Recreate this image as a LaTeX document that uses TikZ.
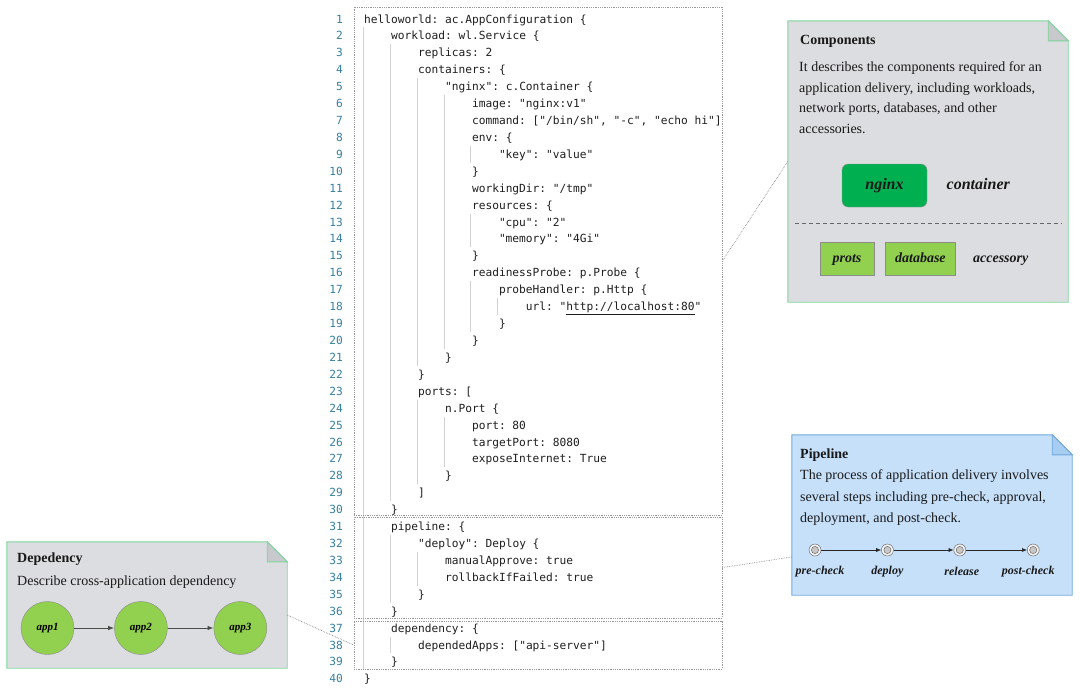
\documentclass[tikz,border=0pt]{standalone}
\usepackage{fontspec}
\setmainfont{Liberation Serif}
\setmonofont{DejaVu Sans Mono}
\usetikzlibrary{positioning,arrows.meta,calc}

\definecolor{lineno}{HTML}{357FA3}
\definecolor{codeink}{HTML}{1E1E1E}
\definecolor{guide}{HTML}{D2D2D2}
\definecolor{notegray}{HTML}{DCDDE0}
\definecolor{foldgray}{HTML}{C8C9CC}
\definecolor{notegreen}{HTML}{7DD69B}
\definecolor{noteblue}{HTML}{C6E0FA}
\definecolor{foldblue}{HTML}{A8CDF2}
\definecolor{edgeblue}{HTML}{6FA8DC}
\definecolor{darkgreen}{HTML}{00B050}
\definecolor{lightgreen}{HTML}{92D050}

\tikzset{
  codeline/.style={anchor=base west, inner sep=0pt, text=codeink, font=\ttfamily\fontsize{11.2}{13}\selectfont},
  linenum/.style={anchor=base east, inner sep=0pt, text=lineno, font=\ttfamily\fontsize{11.2}{13}\selectfont},
  codebox/.style={draw=black!40, densely dotted, line width=0.8pt, inner sep=0pt},
  note/.style={inner sep=0pt},
  notetext/.style={anchor=base west, inner sep=0pt, text=black!90, font=\fontsize{14}{16}\selectfont},
  notetitle/.style={notetext, font=\bfseries\fontsize{14}{16}\selectfont},
  tag/.style={text=black!90, text height=0.85em, text depth=0.05em, font=\bfseries\itshape\fontsize{14}{16}\selectfont},
  link/.style={draw=black!45, densely dotted, line width=0.7pt}
}

\begin{document}
\begin{tikzpicture}[x=1pt, y=-1pt,
    container/.style={tag, rounded corners=6pt, fill=darkgreen, draw=black!40, minimum width=85pt, minimum height=43pt, font=\bfseries\itshape\fontsize{16}{18}\selectfont},
    accbox/.style={tag, fill=lightgreen, draw=black!45, minimum height=33pt},
    stage/.style={circle, minimum size=12pt, inner sep=0pt, draw=black!65, fill=black!5, path picture={\filldraw[draw=black!65, fill=black!22] (path picture bounding box.center) circle (3.6pt);}},
    stagelabel/.style={inner sep=0pt, text=black!90, font=\bfseries\itshape\fontsize{12}{14}\selectfont},
    app/.style={circle, minimum size=53pt, inner sep=0pt, fill=lightgreen, draw=black!45, font=\bfseries\itshape\fontsize{11}{13}\selectfont},
    flow/.style={draw=black!85, line width=0.6pt, -{Latex[length=5pt,width=4pt]}},
    depflow/.style={draw=black!70, line width=0.9pt, -{Latex[length=6pt,width=4.5pt]}}]
\useasboundingbox (0,0) rectangle (1080,697);

% code listing
\foreach \n/\lvl/\txt in {1/0/{helloworld: ac.AppConfiguration \{}, 2/1/{workload: wl.Service \{}, 3/2/{replicas: 2}, 4/2/{containers: \{},
  5/3/{"nginx": c.Container \{}, 6/4/{image: "nginx:v1"}, 7/4/{command: ["/bin/sh", "-c", "echo hi"]}, 8/4/{env: \{},
  9/5/{"key": "value"}, 10/4/{\}}, 11/4/{workingDir: "/tmp"}, 12/4/{resources: \{}, 13/5/{"cpu": "2"}, 14/5/{"memory": "4Gi"},
  15/4/{\}}, 16/4/{readinessProbe: p.Probe \{}, 17/5/{probeHandler: p.Http \{}, 18/6/{url: "\underline{http://localhost:80}"},
  19/5/{\}}, 20/4/{\}}, 21/3/{\}}, 22/2/{\}}, 23/2/{ports: [}, 24/3/{n.Port \{}, 25/4/{port: 80}, 26/4/{targetPort: 8080},
  27/4/{exposeInternet: True}, 28/3/{\}}, 29/2/{]}, 30/1/{\}}, 31/1/{pipeline: \{}, 32/2/{"deploy": Deploy \{},
  33/3/{manualApprove: true}, 34/3/{rollbackIfFailed: true}, 35/2/{\}}, 36/1/{\}}, 37/1/{dependency: \{},
  38/2/{dependedApps: ["api-server"]}, 39/1/{\}}, 40/0/{\}}}{
  \node[linenum] (num\n) at (343,{23+16.92*(\n-1)}) {\n};
  \node[codeline] (code\n) at ({364+26.96*\lvl},{23+16.92*(\n-1)}) {\txt};
}
% indent guides
\foreach \lvl/\a/\b in {0/2/39, 1/3/29, 2/5/21, 3/6/20, 4/9/9, 4/13/14, 4/17/19, 5/18/18, 2/24/28, 3/25/27, 1/32/35, 2/33/34, 1/38/38}
  \draw[guide, line width=0.7pt] ({363+26.96*\lvl},{19+16.92*(\a-1)-8.5}) -- ++(0,{16.92*(\b-\a+1)});

\node[codebox, minimum width=368pt, minimum height=508pt] (cfgbox) at (538,261) {};
\node[codebox, minimum width=368pt, minimum height=101pt] (pipebox) at (538,567.5) {};
\node[codebox, minimum width=368pt, minimum height=48pt] (depbox) at (538,645) {};

% notes with folded corner
\node[note, minimum width=280pt, minimum height=281pt] (comp) at (928,161.5) {};
\node[note, minimum width=280pt, minimum height=160pt] (pipe) at (932,515) {};
\node[note, minimum width=280pt, minimum height=126pt] (dep) at (147,605) {};
\foreach \nb/\fc/\kc/\ec in {comp/notegray/foldgray/notegreen, pipe/noteblue/foldblue/edgeblue, dep/notegray/foldgray/notegreen}{
  \filldraw[fill=\fc, draw=\ec, line width=0.9pt] (\nb.south west) -- (\nb.north west) -- ([xshift=-20pt]\nb.north east) -- ([yshift=-20pt]\nb.north east) -- (\nb.south east) -- cycle;
  \filldraw[fill=\kc, draw=\ec, line width=0.9pt] ([xshift=-20pt]\nb.north east) -- ([xshift=-20pt,yshift=-20pt]\nb.north east) -- ([yshift=-20pt]\nb.north east) -- cycle;
}

% components
\node[notetitle] (comptitle) at (800,44.5) {Components};
\foreach \t [count=\i] in {It describes the components required for an, {application delivery, including workloads,}, {network ports, databases, and other}, accessories.}
  \node[notetext] (comptext\i) at (799,{71.5+20.7*(\i-1)}) {\t};
\node[container] (nginx) at (884.5,185.5) {nginx};
\node[tag, font=\bfseries\itshape\fontsize{16}{18}\selectfont, right=16pt of nginx] (ctrlabel) {container};
\draw[black!60, dash pattern=on 4pt off 3pt, line width=0.8pt] (795,223) -- (1062,223);
\node[accbox, minimum width=54pt] (prots) at (847,258.5) {prots};
\node[accbox, minimum width=70pt, right=11pt of prots] (database) {database};
\node[tag, right=14pt of database] (acclabel) {accessory};

% pipeline
\node[notetitle] (pipetitle) at (800,458.5) {Pipeline};
\foreach \t [count=\i] in {The process of application delivery involves, {several steps including pre-check, approval,}, {deployment, and post-check.}}
  \node[notetext] (pipetext\i) at (800,{479.5+21.5*(\i-1)}) {\t};
\node[stage] (precheck) at (815,550) {};
\node[stage, right=60pt of precheck] (deploy) {};
\node[stage, right=60pt of deploy] (release) {};
\node[stage, right=61pt of release] (postcheck) {};
\draw[flow] (precheck) -- (deploy);
\draw[flow] (deploy) -- (release);
\draw[flow] (release) -- (postcheck);
\node[stagelabel, below=10pt of precheck, xshift=5pt] (prechecklbl) {pre-check};
\node[stagelabel, below=10pt of deploy] (deploylbl) {deploy};
\node[stagelabel, below=11pt of release, xshift=2pt] (releaselbl) {release};
\node[stagelabel, below=10pt of postcheck, xshift=-5pt] (postchecklbl) {post-check};

% dependency
\node[notetitle] (deptitle) at (17,562.5) {Depedency};
\node[notetext] (deptext) at (17,585.5) {Describe cross-application dependency};
\node[app] (app1) at (47.5,628) {app1};
\node[app, right=40pt of app1] (app2) {app2};
\node[app, right=46pt of app2] (app3) {app3};
\draw[depflow] (app1) -- (app2);
\draw[depflow] (app2) -- (app3);

% callouts
\draw[link] (comp.west) -- (cfgbox.east);
\draw[link] ([yshift=-42pt]pipe.west) -- (pipebox.east);
\draw[link] ([yshift=-10pt]dep.east) -- (depbox.west);
\end{tikzpicture}
\end{document}
